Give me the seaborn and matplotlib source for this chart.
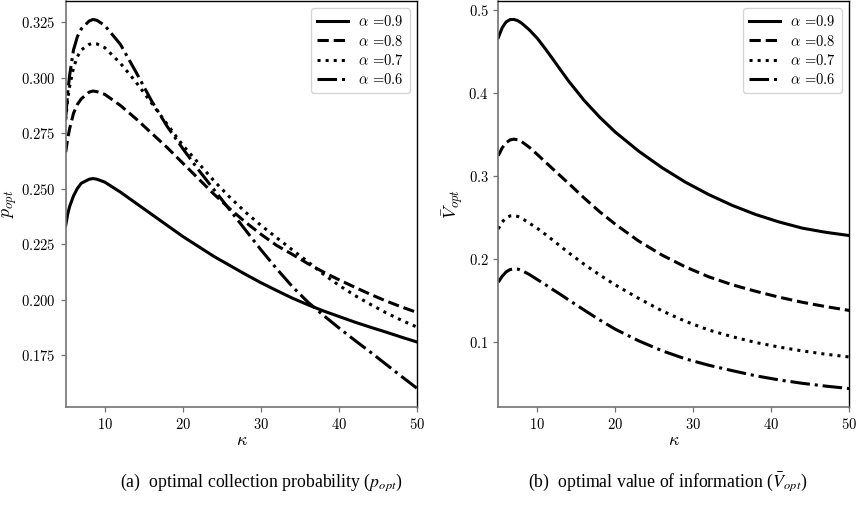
import matplotlib
matplotlib.use("Agg")
import matplotlib.pyplot as plt
from matplotlib.ticker import MultipleLocator, FuncFormatter
import seaborn as sns

# ---- optimal collection probability p_opt versus kappa ----
kappa_p = [5, 5.25, 5.5, 6, 6.5, 7, 8, 8.5, 9, 10, 12, 14, 16, 18, 20, 22, 24,
           26, 28, 30, 32, 34, 36, 38, 40, 42, 44, 46, 48, 50]
p_opt_09 = [0.2335, 0.2385, 0.2420, 0.2468, 0.2502, 0.2525, 0.2543, 0.2546, 0.2543,
            0.2530, 0.2485, 0.2435, 0.2385, 0.2335, 0.2285, 0.2240, 0.2195, 0.2155,
            0.2115, 0.2077, 0.2042, 0.2008, 0.1978, 0.1950, 0.1925, 0.1900, 0.1877,
            0.1855, 0.1832, 0.1810]
p_opt_08 = [0.2665, 0.2725, 0.2770, 0.2840, 0.2880, 0.2905, 0.2935, 0.2940, 0.2937,
            0.2925, 0.2875, 0.2815, 0.2750, 0.2685, 0.2615, 0.2545, 0.2475, 0.2410,
            0.2350, 0.2295, 0.2245, 0.2205, 0.2163, 0.2125, 0.2090, 0.2057, 0.2025,
            0.1995, 0.1968, 0.1943]
p_opt_07 = [0.2810, 0.2900, 0.2960, 0.3045, 0.3095, 0.3125, 0.3150, 0.3154, 0.3152,
            0.3135, 0.3065, 0.2980, 0.2885, 0.2790, 0.2695, 0.2615, 0.2535, 0.2462,
            0.2395, 0.2335, 0.2280, 0.2225, 0.2172, 0.2115, 0.2065, 0.2020, 0.1980,
            0.1942, 0.1908, 0.1877]
p_opt_06 = [0.2820, 0.2930, 0.3010, 0.3125, 0.3185, 0.3220, 0.3255, 0.3262, 0.3258,
            0.3235, 0.3150, 0.3025, 0.2895, 0.2780, 0.2680, 0.2585, 0.2495, 0.2405,
            0.2315, 0.2225, 0.2140, 0.2060, 0.1990, 0.1930, 0.1873, 0.1818, 0.1765,
            0.1710, 0.1655, 0.1601]

# ---- optimal value of information V_opt versus kappa ----
kappa_v = [5, 5.5, 6, 6.5, 7, 7.5, 8, 9, 10, 11, 12, 13, 14, 16, 18, 20, 23, 26,
           29, 32, 35, 38, 41, 44, 47, 50]
v_opt_09 = [0.4670, 0.4790, 0.4860, 0.4888, 0.4890, 0.4875, 0.4845, 0.4762, 0.4662,
            0.4540, 0.4410, 0.4278, 0.4148, 0.3913, 0.3710, 0.3530, 0.3300, 0.3100,
            0.2925, 0.2775, 0.2645, 0.2535, 0.2445, 0.2370, 0.2320, 0.2281]
v_opt_08 = [0.3245, 0.3340, 0.3400, 0.3435, 0.3445, 0.3437, 0.3415, 0.3345, 0.3260,
            0.3172, 0.3085, 0.2998, 0.2912, 0.2735, 0.2568, 0.2418, 0.2215, 0.2045,
            0.1902, 0.1782, 0.1687, 0.1608, 0.1537, 0.1475, 0.1423, 0.1377]
v_opt_07 = [0.2361, 0.2445, 0.2495, 0.2518, 0.2522, 0.2512, 0.2490, 0.2430, 0.2368,
            0.2298, 0.2225, 0.2150, 0.2075, 0.1935, 0.1805, 0.1685, 0.1522, 0.1372,
            0.1245, 0.1140, 0.1060, 0.0990, 0.0935, 0.0888, 0.0848, 0.0815]
v_opt_06 = [0.1718, 0.1790, 0.1842, 0.1870, 0.1880, 0.1876, 0.1860, 0.1810, 0.1750,
            0.1690, 0.1628, 0.1568, 0.1505, 0.1382, 0.1262, 0.1150, 0.1010, 0.0890,
            0.0792, 0.0715, 0.0650, 0.0588, 0.0538, 0.0497, 0.0463, 0.0434]

alpha_labels = ["0.9", "0.8", "0.7", "0.6"]
line_styles = ["-", "--", ":", "-."]

plt.rcParams.update({
    "font.family": ["cmr10", "DejaVu Serif"],
    "mathtext.fontset": "cm",
    "axes.formatter.use_mathtext": True,
    "axes.unicode_minus": False,
    "xtick.labelsize": 10.5,
    "ytick.labelsize": 10.5,
    "axes.labelsize": 13,
    "axes.linewidth": 1.0,
})

fig = plt.figure(figsize=(8.56, 5.11), dpi=100)
W, H = 856.0, 511.0
ax_p = fig.add_axes([65.7 / W, 104 / H, 351.6 / W, 406 / H])
ax_v = fig.add_axes([498.3 / W, 104 / H, 351.0 / W, 406 / H])


def draw_panel(ax, kappa, series, ylabel, step, ndec):
    for values, lab, ls in zip(series, alpha_labels, line_styles):
        sns.lineplot(x=kappa, y=values, ax=ax, color="black", linestyle=ls,
                     linewidth=2.2, label=r"$\alpha$ =$" + lab + "$",
                     estimator=None, sort=False)
    ax.set_xlim(5, 50)
    ax.xaxis.set_major_locator(MultipleLocator(10))
    ax.yaxis.set_major_locator(MultipleLocator(step))
    ax.xaxis.set_major_formatter(FuncFormatter(lambda v, p: f"${v:.0f}$"))
    ax.yaxis.set_major_formatter(FuncFormatter(lambda v, p: f"${v:.{ndec}f}$"))
    ax.set_xlabel(r"$\kappa$", labelpad=1)
    ax.set_ylabel(ylabel, labelpad=1.5)
    for side in ("left", "bottom"):
        ax.spines[side].set_color("0.45")
        ax.spines[side].set_linewidth(1.2)
    ax.tick_params(colors="0.45", labelcolor="black", length=3.5, width=0.9)
    leg = ax.legend(loc="upper right", fontsize=10.5, handlelength=2.15,
                    handletextpad=0.7, labelspacing=0.3, borderaxespad=0.5,
                    frameon=True, fancybox=True)
    leg.get_frame().set_edgecolor("0.8")


draw_panel(ax_p, kappa_p, [p_opt_09, p_opt_08, p_opt_07, p_opt_06],
           r"$p_{opt}$", 0.025, 3)
draw_panel(ax_v, kappa_v, [v_opt_09, v_opt_08, v_opt_07, v_opt_06],
           r"$\bar{V}_{opt}$", 0.1, 1)

cap_kw = dict(ha="center", va="center", fontsize=12.8,
              family=["Liberation Serif", "DejaVu Serif"], math_fontfamily="stix")
fig.text(261.5 / W, 1 - 482 / H,
         r"(a)  optimal collection probability ($p_{opt}$)", **cap_kw)
fig.text(668 / W, 1 - 482 / H,
         r"(b)  optimal value of information ($\bar{V}_{opt}$)", **cap_kw)

fig.savefig("out.png", dpi=100, facecolor="white")
